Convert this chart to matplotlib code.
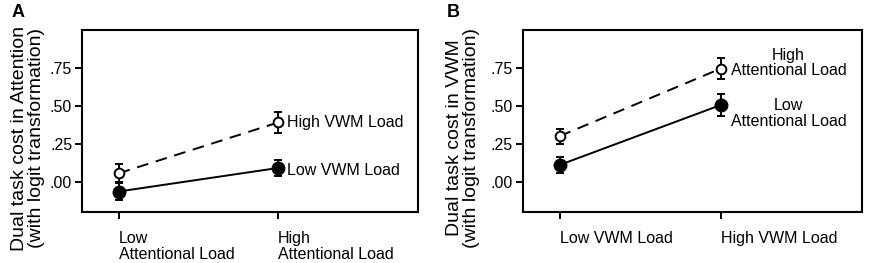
import numpy as np
import matplotlib.pyplot as plt
import matplotlib.transforms as mtransforms

plt.rcParams['font.family'] = ['Liberation Sans', 'DejaVu Sans']

# Panel A: dual task cost in attention
a_xlabels = ["Low\nAttentional Load", "High\nAttentional Load"]
a_high_vwm = [0.055, 0.39]
a_high_vwm_err = [0.06, 0.07]
a_low_vwm = [-0.065, 0.09]
a_low_vwm_err = [0.055, 0.05]

# Panel B: dual task cost in VWM
b_xlabels = ["Low VWM Load", "High VWM Load"]
b_high_att = [0.30, 0.745]
b_high_att_err = [0.05, 0.07]
b_low_att = [0.11, 0.505]
b_low_att_err = [0.05, 0.07]

yticks = [0.0, 0.25, 0.5, 0.75]
ytick_labels = [".00", ".25", ".50", ".75"]

fig = plt.figure(figsize=(8.71, 2.63), dpi=100)
axA = fig.add_axes([0.0941, 0.194, 0.386, 0.692])
axB = fig.add_axes([0.600, 0.194, 0.390, 0.692])


def draw_panel(ax, xlabels, open_vals, open_err, filled_vals, filled_err):
    x = np.arange(2)
    ax.errorbar(x, filled_vals, yerr=filled_err, color='black', lw=1.4,
                marker='o', ms=9, mfc='black', mec='black',
                capsize=3, capthick=1.4, elinewidth=1.4, zorder=3)
    ax.errorbar(x, open_vals, yerr=open_err, color='black', lw=1.4, ls=(0, (6, 4)),
                marker='o', ms=7, mfc='white', mec='black', mew=1.4,
                capsize=3, capthick=1.4, elinewidth=1.4, zorder=4)
    ax.set_xlim(-0.23, 1.88)
    ax.set_ylim(-0.2, 1.0)
    ax.set_yticks(yticks)
    ax.set_yticklabels(ytick_labels, fontsize=11.5)
    ax.set_xticks(x)
    ax.set_xticklabels(xlabels, fontsize=11.5, ha='left', linespacing=1.05)
    shift = mtransforms.ScaledTranslation(-15 / 100, 0, fig.dpi_scale_trans)
    for lab in ax.get_xticklabels():
        lab.set_transform(lab.get_transform() + shift)
    ax.tick_params(direction='out', length=5, width=1.4, pad=2)
    ax.tick_params(axis='x', pad=9)
    for s in ax.spines.values():
        s.set_linewidth(1.5)


draw_panel(axA, a_xlabels, a_high_vwm, a_high_vwm_err, a_low_vwm, a_low_vwm_err)
draw_panel(axB, b_xlabels, b_high_att, b_high_att_err, b_low_att, b_low_att_err)

# series labels
axA.annotate("High VWM Load", (1, a_high_vwm[1]), xytext=(6.5, 0),
             textcoords='offset points', ha='left', va='center', fontsize=11.5)
axA.annotate("Low VWM Load", (1, a_low_vwm[1]), xytext=(6.5, -2),
             textcoords='offset points', ha='left', va='center', fontsize=11.5)
axB.annotate("High\nAttentional Load", (1, b_high_att[1]), xytext=(49, 4),
             textcoords='offset points', ha='center', va='center', fontsize=11.5,
             linespacing=1.05)
axB.annotate("Low\nAttentional Load", (1, b_low_att[1]), xytext=(49, -6),
             textcoords='offset points', ha='center', va='center', fontsize=11.5,
             linespacing=1.05)

# y labels
fig.text(28 / 871, 0.475, "Dual task cost in Attention\n(with logit transformation)",
         rotation=90, ha='center', va='center', fontsize=14, linespacing=1.0)
fig.text(463 / 871, 0.475, "Dual task cost in VWM\n(with logit transformation)",
         rotation=90, ha='center', va='center', fontsize=14, linespacing=1.0)

# panel letters
fig.text(12 / 871, 1 - 4 / 263, "A", fontsize=13, fontweight='bold', ha='left', va='top')
fig.text(447 / 871, 1 - 4 / 263, "B", fontsize=13, fontweight='bold', ha='left', va='top')

fig.savefig("out.png", dpi=100)
